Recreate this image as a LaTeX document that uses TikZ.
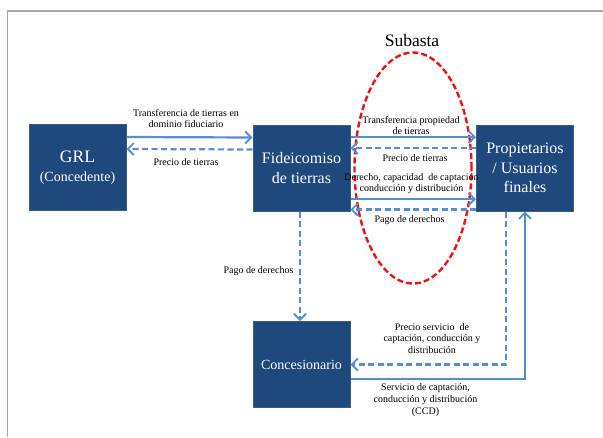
\documentclass[tikz,border=0pt]{standalone}
\usepackage{fontspec}
\setmainfont{Liberation Serif}
\usetikzlibrary{arrows.meta,shapes.geometric}
\definecolor{boxfill}{HTML}{1F497D}
\definecolor{boxline}{HTML}{385D8A}
\definecolor{arr}{HTML}{558ED5}
\definecolor{subred}{HTML}{F01010}
\begin{document}
\begin{tikzpicture}[x=1pt,y=-1pt,
  entity/.style={draw=boxline, line width=1pt, fill=boxfill, text=white,
    minimum width=97pt, minimum height=86pt, inner sep=1pt, align=center,
    font=\fontsize{16}{19.5}\selectfont},
  flowarr/.style={draw=arr, line width=2.2pt,
    -{Straight Barb[length=6pt,width=12pt,line width=1.9pt]}},
  solidflow/.style={flowarr},
  dashflow/.style={flowarr, dash pattern=on 6pt off 3.5pt},
  lbl/.style={align=center, inner sep=0pt, font=\fontsize{10}{11.8}\selectfont}
]
\useasboundingbox (0,0) rectangle (603,437);
\draw[black!35, line width=1.6pt] (7.5,437) -- (7.5,11) -- (603,11);

% auction ellipse
\node[ellipse, draw=subred, line width=2.4pt, dash pattern=on 6pt off 3pt,
  minimum width=117pt, minimum height=231pt, inner sep=0pt] (sub) at (413,168) {};
\node[font=\fontsize{17.5}{20}\selectfont] (subt) at (412,41) {Subasta};

% boxes
\node[entity] (grl) at (77.5,167.5) {\fontsize{17.5}{20}\selectfont GRL\\[-1pt]\fontsize{14}{17}\selectfont(Concedente)};
\node[entity] (fid) at (301.5,168) {Fideicomiso\\de tierras};
\node[entity] (prop) at (525,168) {Propietarios\\/ Usuarios\\finales};
\node[entity, font=\fontsize{14}{17}\selectfont] (conc) at (301.5,364.5) {Concesionario};

% GRL <-> Fideicomiso
\draw[solidflow] ([yshift=30.5pt]grl.east) -- ([yshift=30.5pt]fid.west);
\draw[dashflow] ([yshift=18.5pt]fid.west) -- ([yshift=18.5pt]grl.east);
\node[lbl] (l1) at (186,118.5) {Transferencia de tierras en\\dominio fiduciario};
\node[lbl] (l2) at (186,162) {Precio de tierras};

% Fideicomiso <-> Propietarios
\draw[solidflow] ([yshift=31pt]fid.east) -- ([yshift=31pt]prop.west);
\draw[dashflow] ([yshift=20pt]prop.west) -- ([yshift=20pt]fid.east);
\draw[solidflow] ([yshift=-31pt]fid.east) -- ([yshift=-31pt]prop.west);
\draw[dashflow] ([yshift=-41.5pt]prop.west) -- ([yshift=-41.5pt]fid.east);
\node[lbl] (l3) at (411,125.5) {Transferencia propiedad\\de tierras};
\node[lbl] (l4) at (415,158) {Precio de tierras};
\node[lbl] (l5) at (411.5,183.5) {Derecho, capacidad~ de captación\\conducción y distribución};
\node[lbl] (l6) at (409.5,220) {Pago de derechos};

% Fideicomiso -> Concesionario
\draw[dashflow] ([xshift=-1.5pt]fid.south) -- ([xshift=-1.5pt]conc.north);
\node[lbl] (l7) at (258.5,271) {Pago de derechos};

% Propietarios <-> Concesionario
\draw[dashflow] ([xshift=-19pt]prop.south) |- (conc.east);
\draw[solidflow] ([yshift=-14.5pt]conc.east) -| (prop.south);
\node[lbl] (l8) at (432,338.5) {Precio servicio~ de\\captación, conducción y\\distribución};
\node[lbl] (l9) at (425.5,400) {Servicio de captación,\\conducción y distribución\\(CCD)};
\end{tikzpicture}
\end{document}
